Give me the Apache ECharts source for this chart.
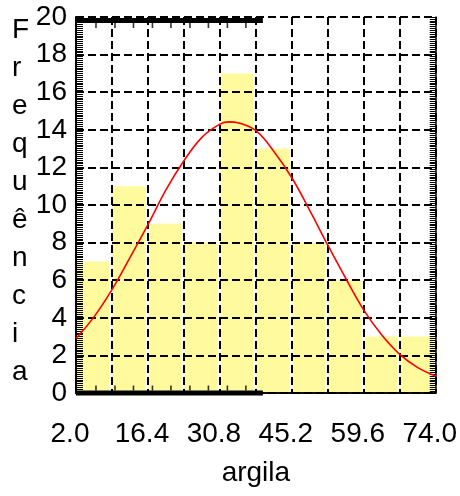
<!DOCTYPE html>
<html>
<head>
<meta charset="utf-8">
<script src="https://cdn.jsdelivr.net/npm/echarts@6/dist/echarts.min.js"></script>
<style>
html,body{margin:0;padding:0;background:#fff;}
#chart{width:460px;height:496px;}
</style>
</head>
<body>
<div id="chart"></div>
<script>
// ---- data ----
const binEdges = [2.0, 9.2, 16.4, 23.6, 30.8, 38.0, 45.2, 52.4, 59.6, 66.8, 74.0];
const counts = [7, 11, 9, 8, 17, 13, 8, 6, 3, 3];
const curveX = [2.0, 5.6, 9.2, 12.8, 16.4, 20.0, 23.6, 27.2, 30.8, 32.6, 34.4, 38.0, 41.6, 45.2, 48.8, 52.4, 56.0, 59.6, 63.2, 66.8, 70.4, 74.0];
const curveY = [2.9, 4.05, 5.5, 7.2, 8.95, 10.8, 12.35, 13.6, 14.3, 14.42, 14.38, 13.95, 12.85, 11.45, 9.7, 7.86, 6.09, 4.41, 3.08, 2.05, 1.35, 0.9];
const xTickLabels = ['2.0', '16.4', '30.8', '45.2', '59.6', '74.0'];
const yTickValues = [0, 2, 4, 6, 8, 10, 12, 14, 16, 18, 20];
const xAxisTitle = 'argila';
const yAxisTitle = 'Frequência';
// decorative marks of the original frame
const thickBarX = [2.0, 39.4];
const frameTickX = [6.0, 9.8, 13.5, 17.3, 21.0, 24.8, 28.5, 32.3, 36.0];

const FONT = '"Liberation Sans", Arial, Helvetica, sans-serif';
const chart = echarts.init(document.getElementById('chart'), null, {renderer: 'canvas'});

const barData = counts.map((c, i) => [binEdges[i], binEdges[i + 1], c]);
const curveData = curveX.map((x, i) => [x, curveY[i]]);
const dashed = {show: true, lineStyle: {color: '#000', width: 2, type: [8, 4]}};

const option = {
  backgroundColor: '#fff',
  animation: false,
  grid: {left: 76, right: 23, top: 17, bottom: 103, containLabel: false},
  xAxis: [{
    type: 'value', min: binEdges[0], max: binEdges[binEdges.length - 1], interval: 7.2,
    position: 'bottom', z: 3,
    axisLine: {show: true, lineStyle: {color: '#000', width: 1.5}},
    axisTick: {show: false},
    axisLabel: {
      fontSize: 28, fontFamily: FONT, color: '#000', margin: 27, padding: [0, 12, 0, 0],
      formatter: v => xTickLabels.find(l => Math.abs(parseFloat(l) - v) < 1e-6) || ''
    },
    splitLine: dashed,
    name: xAxisTitle, nameLocation: 'middle', nameGap: 66,
    nameTextStyle: {fontSize: 28, fontFamily: FONT, color: '#000'}
  }, {
    type: 'value', min: binEdges[0], max: binEdges[binEdges.length - 1], interval: 7.2,
    position: 'top', z: 3,
    axisLine: {show: true, lineStyle: {color: '#000', width: 1.5}},
    axisTick: {show: false}, axisLabel: {show: false}, splitLine: {show: false}
  }],
  yAxis: [{
    type: 'value', min: yTickValues[0], max: yTickValues[yTickValues.length - 1], interval: 2,
    position: 'left', z: 3,
    axisLine: {show: true, lineStyle: {color: '#000', width: 2}},
    axisTick: {show: true, inside: true, length: 7, lineStyle: {color: '#000', width: 1}},
    minorTick: {show: true, splitNumber: 20, length: 7, lineStyle: {color: '#000', width: 1}},
    axisLabel: {fontSize: 28, fontFamily: FONT, color: '#000', margin: 9},
    splitLine: dashed
  }, {
    type: 'value', min: yTickValues[0], max: yTickValues[yTickValues.length - 1], interval: 2,
    position: 'right', z: 3,
    axisLine: {show: true, lineStyle: {color: '#000', width: 1.5}},
    axisTick: {show: true, inside: true, length: 6, lineStyle: {color: '#000', width: 1}},
    minorTick: {show: true, splitNumber: 20, length: 6, lineStyle: {color: '#000', width: 1}},
    axisLabel: {show: false}, splitLine: {show: false}
  }],
  graphic: [{
    type: 'text', left: 12, top: 11, z: 10,
    style: {text: yAxisTitle.split('').join('\n'), font: '28px ' + FONT, fill: '#000', lineHeight: 38}
  }],
  series: [{
    type: 'custom', name: 'freq', z: 1, clip: true,
    data: barData,
    encode: {x: [0, 1], y: 2},
    renderItem: (params, api) => {
      const p0 = api.coord([api.value(0), api.value(2)]);
      const p1 = api.coord([api.value(1), 0]);
      return {type: 'rect', shape: {x: p0[0] + 0.5, y: p0[1], width: p1[0] - p0[0] - 3, height: p1[1] - p0[1]},
              style: {fill: '#FFFA9E'}};
    }
  }, {
    type: 'line', name: 'normal', z: 6, data: curveData, smooth: 0.4, showSymbol: false, symbol: 'none',
    lineStyle: {color: '#FF0000', width: 1.6}
  }, {
    type: 'line', z: 7, clip: false, symbol: 'none', data: thickBarX.map(x => [x, 0]),
    lineStyle: {color: '#000', width: 5}
  }, {
    type: 'line', z: 7, clip: false, symbol: 'none', data: thickBarX.map(x => [x, 19.82]),
    lineStyle: {color: '#000', width: 5}
  }, {
    type: 'scatter', z: 7, silent: true, symbol: 'rect', symbolSize: [1.6, 5], symbolOffset: [0, -5],
    data: frameTickX.map(x => [x, 0]), itemStyle: {color: '#000'}
  }, {
    type: 'scatter', z: 7, silent: true, symbol: 'rect', symbolSize: [1.6, 5], symbolOffset: [0, 8.5],
    data: frameTickX.map(x => [x, 20]), itemStyle: {color: '#000'}
  }]
};
chart.setOption(option);
</script>
</body>
</html>
